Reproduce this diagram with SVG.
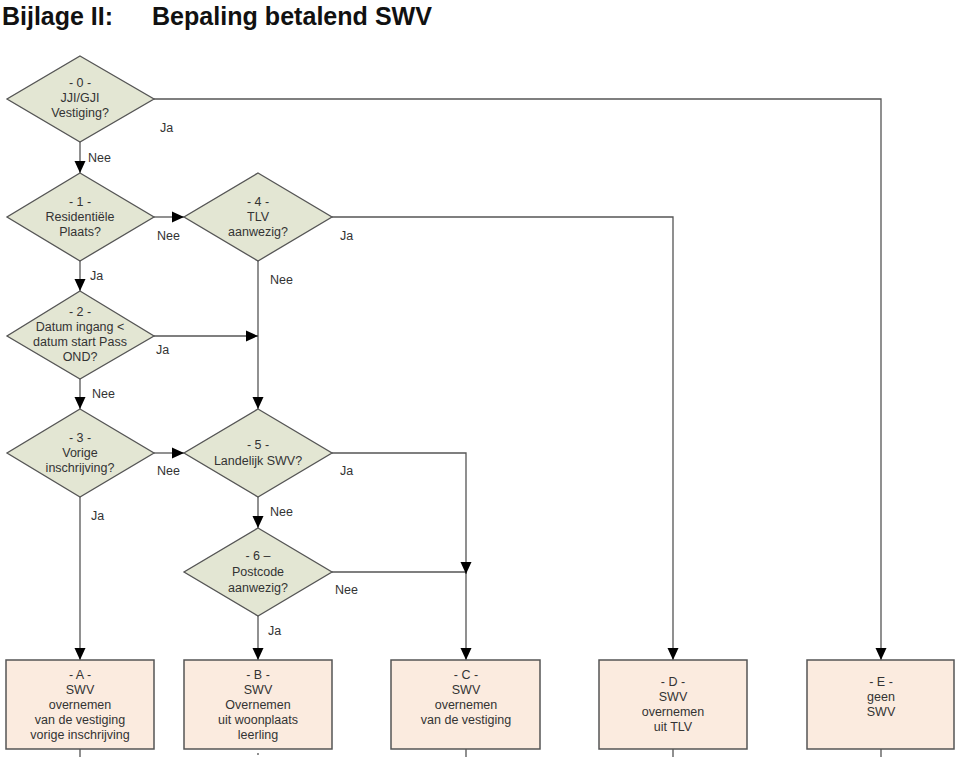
<svg xmlns="http://www.w3.org/2000/svg" width="960" height="757" viewBox="0 0 960 757">
<defs>
<style>
.dia{fill:#e3e6d3;stroke:#555;stroke-width:1.3}
.box{fill:#fbebdf;stroke:#555;stroke-width:1.5}
.t{font-family:"Liberation Sans",Arial,sans-serif;font-size:12.5px;fill:#333;text-anchor:middle}
.bt{font-family:"Liberation Sans",Arial,sans-serif;font-size:12.5px;fill:#333;text-anchor:middle}
.lbl{font-family:"Liberation Sans",Arial,sans-serif;font-size:12.5px;fill:#333}
.c{fill:none;stroke:#555;stroke-width:1.3}
.title{font-family:"Liberation Sans",Arial,sans-serif;font-weight:bold;font-size:26px;fill:#111}
</style>
<marker id="ah" markerUnits="userSpaceOnUse" markerWidth="12" markerHeight="12" viewBox="0 0 12 12" refX="12" refY="6" orient="auto">
<path d="M0,0.5 L12,6 L0,11.5 Z" fill="#000"/>
</marker>
</defs>
<rect width="960" height="757" fill="#fff"/>
<text class="title" x="2" y="25" textLength="111" lengthAdjust="spacingAndGlyphs">Bijlage II:</text>
<text class="title" x="152" y="25" textLength="280" lengthAdjust="spacingAndGlyphs">Bepaling betalend SWV</text>

<g id="connectors">
<path class="c" d="M80,142 V173" marker-end="url(#ah)"/>
<path class="c" d="M154,99 H881 V660" marker-end="url(#ah)"/>
<path class="c" d="M154,217 H184" marker-end="url(#ah)"/>
<path class="c" d="M80,261 V291" marker-end="url(#ah)"/>
<path class="c" d="M332,217 H673 V660" marker-end="url(#ah)"/>
<path class="c" d="M258,261 V409" marker-end="url(#ah)"/>
<path class="c" d="M154,336 H258" marker-end="url(#ah)"/>
<path class="c" d="M80,379 V409" marker-end="url(#ah)"/>
<path class="c" d="M154,453 H184" marker-end="url(#ah)"/>
<path class="c" d="M80,497 V660" marker-end="url(#ah)"/>
<path class="c" d="M332,453 H466 V660" marker-end="url(#ah)"/>
<path class="c" d="M258,497 V528" marker-end="url(#ah)"/>
<path class="c" d="M332,572 H466 V574" marker-end="url(#ah)"/>
<path class="c" d="M258,616 V660" marker-end="url(#ah)"/>
<path class="c" d="M80,749 V757 M258,753 V755 M466,749 V757 M673,749 V757 M881,749 V757"/>
<text class="lbl" x="160" y="132">Ja</text>
<text class="lbl" x="88" y="162">Nee</text>
<text class="lbl" x="157" y="240">Nee</text>
<text class="lbl" x="90" y="280">Ja</text>
<text class="lbl" x="340" y="240">Ja</text>
<text class="lbl" x="270" y="284">Nee</text>
<text class="lbl" x="156" y="354">Ja</text>
<text class="lbl" x="92" y="398">Nee</text>
<text class="lbl" x="157" y="475">Nee</text>
<text class="lbl" x="91" y="520">Ja</text>
<text class="lbl" x="340" y="475">Ja</text>
<text class="lbl" x="270" y="516">Nee</text>
<text class="lbl" x="335" y="594">Nee</text>
<text class="lbl" x="268" y="635">Ja</text>
</g>

<g id="d0">
<polygon class="dia" points="80,56 154,99 80,142 7,99"/>
<text class="t" x="80" y="87">- 0 -</text>
<text class="t" x="80" y="102">JJI/GJI</text>
<text class="t" x="80" y="117">Vestiging?</text>
</g>
<g id="d1">
<polygon class="dia" points="80,173 154,217 80,261 7,217"/>
<text class="t" x="80" y="206">- 1 -</text>
<text class="t" x="80" y="221">Residentiële</text>
<text class="t" x="80" y="236">Plaats?</text>
</g>
<g id="d4">
<polygon class="dia" points="258,173 332,217 258,261 184,217"/>
<text class="t" x="258" y="206">- 4 -</text>
<text class="t" x="258" y="221">TLV</text>
<text class="t" x="258" y="236">aanwezig?</text>
</g>
<g id="d2">
<polygon class="dia" points="80,291 154,336 80,379 7,336"/>
<text class="t" x="80" y="316">- 2 -</text>
<text class="t" x="80" y="331">Datum ingang &lt;</text>
<text class="t" x="80" y="346">datum start Pass</text>
<text class="t" x="80" y="361">OND?</text>
</g>
<g id="d3">
<polygon class="dia" points="80,409 154,453 80,497 7,453"/>
<text class="t" x="80" y="442">- 3 -</text>
<text class="t" x="80" y="457">Vorige</text>
<text class="t" x="80" y="472">inschrijving?</text>
</g>
<g id="d5">
<polygon class="dia" points="258,409 332,453 258,497 184,453"/>
<text class="t" x="258" y="449">- 5 -</text>
<text class="t" x="258" y="465">Landelijk SWV?</text>
</g>
<g id="d6">
<polygon class="dia" points="258,528 332,572 258,616 184,572"/>
<text class="t" x="258" y="560">- 6 –</text>
<text class="t" x="258" y="576">Postcode</text>
<text class="t" x="258" y="592">aanwezig?</text>
</g>

<g id="bA">
<rect class="box" x="6" y="660" width="148" height="89"/>
<text class="bt" x="80" y="679">- A -</text>
<text class="bt" x="80" y="694">SWV</text>
<text class="bt" x="80" y="709">overnemen</text>
<text class="bt" x="80" y="724">van de vestiging</text>
<text class="bt" x="80" y="739">vorige inschrijving</text>
</g>
<g id="bB">
<rect class="box" x="184" y="660" width="148" height="89"/>
<text class="bt" x="258" y="679">- B -</text>
<text class="bt" x="258" y="694">SWV</text>
<text class="bt" x="258" y="709">Overnemen</text>
<text class="bt" x="258" y="724">uit woonplaats</text>
<text class="bt" x="258" y="739">leerling</text>
</g>
<g id="bC">
<rect class="box" x="391" y="660" width="149" height="89"/>
<text class="bt" x="466" y="679">- C -</text>
<text class="bt" x="466" y="694">SWV</text>
<text class="bt" x="466" y="709">overnemen</text>
<text class="bt" x="466" y="724">van de vestiging</text>
</g>
<g id="bD">
<rect class="box" x="599" y="660" width="148" height="89"/>
<text class="bt" x="673" y="686">- D -</text>
<text class="bt" x="673" y="701">SWV</text>
<text class="bt" x="673" y="716">overnemen</text>
<text class="bt" x="673" y="731">uit TLV</text>
</g>
<g id="bE">
<rect class="box" x="807" y="660" width="147" height="89"/>
<text class="bt" x="881" y="686">- E -</text>
<text class="bt" x="881" y="701">geen</text>
<text class="bt" x="881" y="716">SWV</text>
</g>
</svg>
